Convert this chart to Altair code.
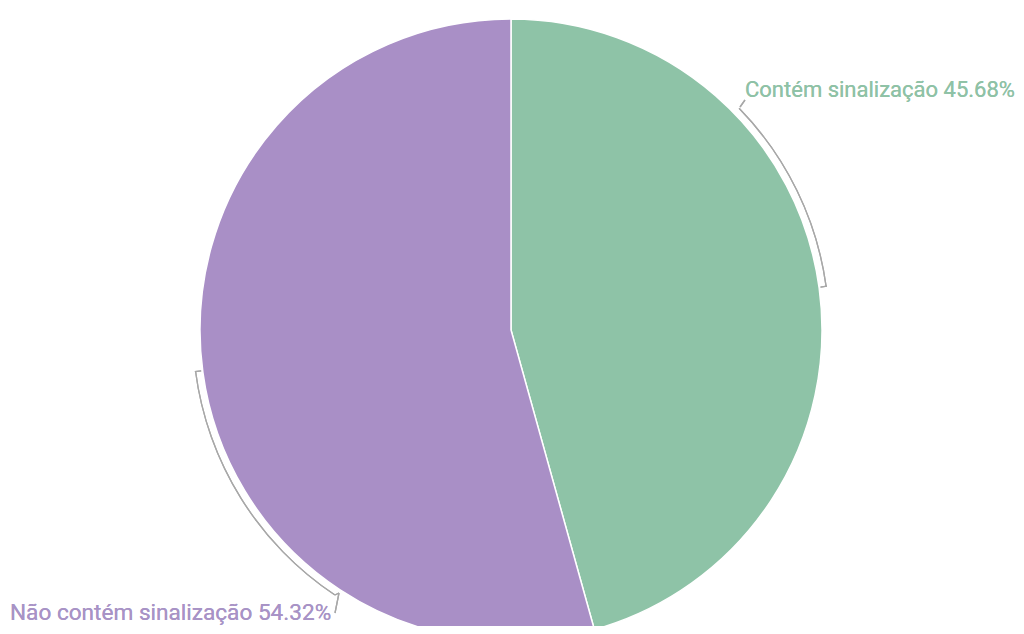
import math
import altair as alt
import pandas as pd

categories = ["Contém sinalização", "Não contém sinalização"]
values = [45.68, 54.32]
colors = ["#8ec3a7", "#a98fc6"]

df = pd.DataFrame({"categoria": categories, "valor": values})

W, H = 1008, 618
CX, CY = 503, 322
R = 311
GRAY = "#a8a8a8"

pie = alt.Chart(df).mark_arc(outerRadius=R, stroke="white", strokeWidth=1.5).encode(
    theta=alt.Theta("valor:Q", stack=True),
    color=alt.Color("categoria:N", scale=alt.Scale(domain=categories, range=colors), legend=None),
    order=alt.Order("categoria:N", sort="ascending"),
    x=alt.value(CX),
    y=alt.value(CY),
)

def deg(d):
    return d * math.pi / 180

def bracket(a0, a1):
    return alt.Chart(df).mark_arc(
        theta=deg(a0), theta2=deg(a1), radius=317.5, radius2=318.8, color=GRAY
    ).encode(x=alt.value(CX), y=alt.value(CY))

def tick(a, r0, r1):
    return alt.Chart(df).mark_arc(
        theta=deg(a - 0.12), theta2=deg(a + 0.12), radius=r0, radius2=r1, color=GRAY
    ).encode(x=alt.value(CX), y=alt.value(CY))

def seg(x0, y0, x1, y1):
    return alt.Chart(df).mark_rule(color=GRAY, strokeWidth=1.3).encode(
        x=alt.value(x0), y=alt.value(y0), x2=alt.value(x1), y2=alt.value(y1)
    )

b1 = bracket(45.8, 82.2)
b2 = bracket(213.6, 262.6)
t1 = tick(82.1, 312.5, 318.8)
t2 = tick(262.5, 312.5, 318.8)
c1 = seg(732, 99, 737, 92)
c2a = seg(327, 587, 331, 585)
c2b = seg(331, 585, 327, 605)

lbl_g = alt.Chart(df).mark_text(
    text=f"{categories[0]} {values[0]:.2f}%", align="left", baseline="alphabetic",
    font="Roboto", fontSize=22, color="#8fc2a6"
).encode(x=alt.value(737), y=alt.value(89))

lbl_p = alt.Chart(df).mark_text(
    text=f"{categories[1]} {values[1]:.2f}%", align="left", baseline="alphabetic",
    font="Roboto", fontSize=22.6, color="#a893c6"
).encode(x=alt.value(2), y=alt.value(612))

chart = alt.layer(pie, b1, b2, t1, t2, c1, c2a, c2b, lbl_g, lbl_p).properties(
    width=W, height=H, padding=0, autosize=alt.AutoSizeParams(type="none")
).configure_view(stroke=None)

chart.save("out.html", embed_options={"renderer": "svg", "actions": False})
